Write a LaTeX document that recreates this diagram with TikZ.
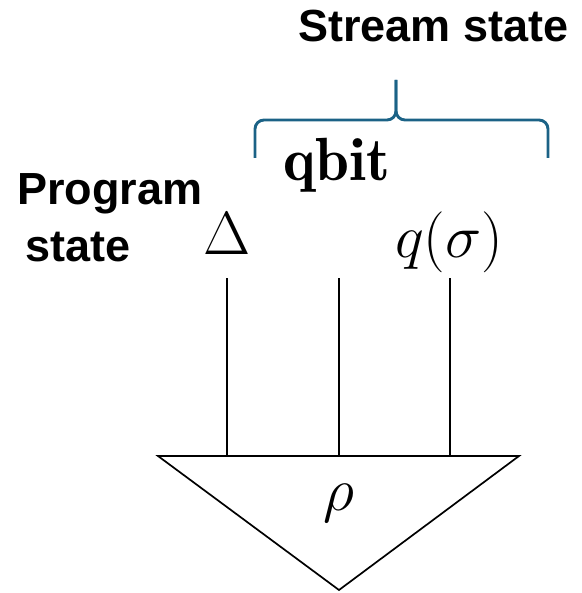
\RequirePackage{fix-cm}
\documentclass[tikz,border=0pt]{standalone}
\usepackage{fontspec}
\setsansfont{Liberation Sans}
\usepackage{tikz}
\usetikzlibrary{positioning}
\definecolor{streamblue}{HTML}{1B6286}

\begin{document}
\begin{tikzpicture}[x=0.5pt,y=-0.5pt,
lbl/.style={inner sep=0pt, font=\fontsize{22.5}{28.5}\selectfont\sffamily\bfseries},
mth/.style={inner sep=0pt, font=\fontsize{30.5}{36}\selectfont},
wire/.style={line width=0.85pt, line join=miter},
brc/.style={draw=streamblue, line width=1.45pt, rounded corners=4.5pt}
]
\useasboundingbox (0,0) rectangle (582,593);

% labels
\node[lbl, anchor=base west] (stream) at (298,42) {Stream state};
\node[lbl, align=left, anchor=north west] (prog) at (17,173) {Program\\\hspace{4pt}state};
\node[mth, anchor=base] (qbit) at (337,181) {$\mathbf{qbit}$};
\node[mth, anchor=base] (delta) at (227,254) {$\Delta$};
\node[mth, anchor=base] (qsig) at (449,257) {$q(\sigma)$};

% brace over the stream wires
\coordinate (bl) at (255,158);
\coordinate (br) at (548,158);
\coordinate (bmid) at (396,120);
\coordinate (btip) at (396,80);
\draw[brc] (bl) |- (bmid) -- (btip);
\draw[brc] (br) |- (bmid) -- (btip);

% state triangle
\coordinate (tl) at (158,456);
\coordinate (tr) at (519,456);
\coordinate (tb) at (339,590);
\draw[wire] (tl) -- (tr) -- (tb) -- cycle;
\node[mth, anchor=base] (rho) at (339,510) {$\rho$};

% wires
\coordinate (w1) at (227,278);
\coordinate (w2) at (339,278);
\coordinate (w3) at (450,278);
\foreach \w in {w1,w2,w3}
  \draw[wire] (\w) -- (\w |- tl);
\end{tikzpicture}
\end{document}
